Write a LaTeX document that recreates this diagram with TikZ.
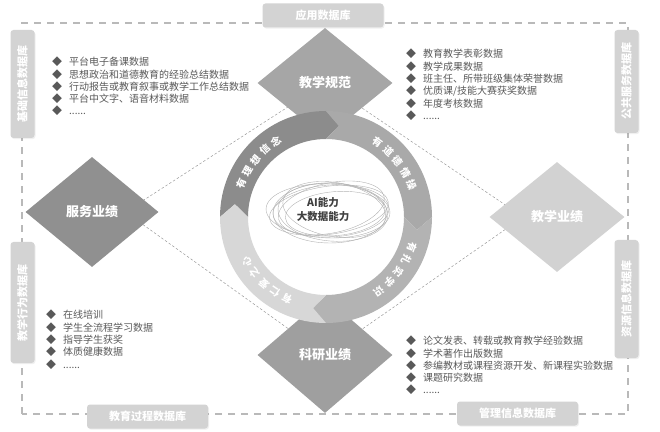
\documentclass[tikz,border=0pt]{standalone}
\usepackage{fontspec}
\setmainfont{Noto Sans CJK SC}
\usetikzlibrary{shapes.geometric,backgrounds,calc,shadows}
\definecolor{dbgray}{HTML}{D3D3D3}
\definecolor{txtgray}{HTML}{595959}
\definecolor{ringA}{HTML}{8C8C8C}
\definecolor{ringB}{HTML}{A9A9A9}
\definecolor{ringC}{HTML}{B3B3B3}
\definecolor{ringD}{HTML}{D7D7D7}
\newcommand{\etcdots}{......}

\begin{document}
\begin{tikzpicture}[x=1pt,y=1pt,
dbbox/.style={rounded corners=3pt,fill=dbgray,text=white,inner sep=0pt,
  font=\fontsize{11}{11}\selectfont\bfseries,
  drop shadow={opacity=0.12,shadow xshift=1pt,shadow yshift=-1.2pt}},
hbox/.style={dbbox,minimum height=24,minimum width=121},
vbox/.style={dbbox,rotate=90,minimum height=24},
dia/.style={diamond,aspect=1.2,minimum width=135,minimum height=110,inner sep=0pt,
  text=white,font=\fontsize{13}{13}\selectfont\bfseries},
item/.style={anchor=west,inner sep=0pt,text=txtgray,font=\fontsize{10}{10}\selectfont},
rtxt/.style={inner sep=0pt,text=white,font=\fontsize{10}{10}\selectfont\bfseries},
frame/.style={draw=gray!55,line width=1.2pt,dash pattern=on 7pt off 6pt},
link/.style={draw=gray!80,line width=0.5pt,dash pattern=on 2.5pt off 2pt},
scrib/.style={draw=gray!60,line width=0.4pt}]
\useasboundingbox (0,0) rectangle (660,431);

\node[dia,fill=gray!70] (gf) at (325,348) {教学规范};
\node[dia,fill=gray!87,minimum width=133] (fw) at (92,219) {服务业绩};
\node[dia,fill=gray!35] (jx) at (557,214) {教学业绩};
\node[dia,fill=gray!75,minimum height=116] (ky) at (325,76) {科研业绩};

\node[hbox] (db-top) at (323,415.5) {应用数据库};
\node[hbox] (db-lb) at (147.5,14.5) {教育过程数据库};
\node[hbox] (db-rb) at (517.5,17.5) {管理信息数据库};
\node[vbox,minimum width=108] (db-lt) at (22.5,347) {基础信息数据库};
\node[vbox,minimum width=103] (db-rt) at (626.5,349.5) {公共服务数据库};
\node[vbox,minimum width=121] (db-lbv) at (22.5,128.5) {教学行为数据库};
\node[vbox,minimum width=118] (db-rbv) at (626.5,132) {资源信息数据库};

\begin{scope}[on background layer]
\draw[frame] (22,17) rectangle (628,408);
\draw[link] (gf.center) -- ($(jx.center)!.5!(jx.west)$) -- (ky.center)
  -- ($(fw.center)!.5!(fw.east)$) -- cycle;
\end{scope}

\coordinate (rc) at (326,214);
\begin{scope}[shift={(rc)}]
\foreach \a/\c in {180/ringA,90/ringB,0/ringC,-90/ringD}
  \fill[\c] (\a:106) arc[start angle=\a,end angle=\a-90,radius=106]
    -- ({\a-98}:92) -- ({\a-90}:78) arc[start angle=\a-90,end angle=\a,radius=78]
    -- ({\a-8}:92) -- cycle;
\foreach \ch [count=\k] in {有,理,想,信,念}
  \node[rtxt,rotate={141+(3-\k)*8.8-90}] (ra-\k) at ({141+(3-\k)*8.8}:91) {\ch};
\foreach \ch [count=\k] in {有,道,德,情,操}
  \node[rtxt,rotate={38+(3-\k)*8.8-90}] (rb-\k) at ({38+(3-\k)*8.8}:91) {\ch};
\foreach \ch [count=\k] in {有,扎,实,学,识}
  \node[rtxt,rotate={-37+(3-\k)*8.8-90}] (rc-\k) at ({-37+(3-\k)*8.8}:91) {\ch};
\foreach \ch [count=\k] in {有,仁,爱,之,心}
  \node[rtxt,rotate={-133+(3-\k)*8.8-90}] (rd-\k) at ({-133+(3-\k)*8.8}:91) {\ch};
\end{scope}

\begin{scope}[shift={(331,220)}]
\foreach \rx/\ry/\r/\dx/\dy in {58/26/3/0/0,55/29/-4/2/-1,60/24/8/-2/1,52/27/-10/3/2,
  57/30/0/-1/-2,50/22/5/4/-3,62/27/-2/-3/0,54/25/12/1/3}
  \draw[scrib,rotate=\r] (\dx,\dy) ellipse[x radius=\rx,y radius=\ry];
\end{scope}
\node[align=center,text=black!75,font=\fontsize{10.5}{14}\selectfont\bfseries] (ai) at (323,221) {AI能力\\大数据能力};

\foreach \t [count=\i] in {平台电子备课数据,思想政治和道德教育的经验总结数据,
  行动报告或教育叙事或教学工作总结数据,平台中文字、语音材料数据,\etcdots}
  \node[item] (la-\i) at (52,381.3-12.3*\i) {◆\hspace{7pt}\t};
\foreach \t [count=\i] in {教育教学表彰数据,教学成果数据,班主任、所带班级集体荣誉数据,
  {优质课/技能大赛获奖数据},年度考核数据,\etcdots}
  \node[item] (lb-\i) at (406,389.4-12.4*\i) {◆\hspace{7pt}\t};
\foreach \t [count=\i] in {在线培训,学生全流程学习数据,指导学生获奖,体质健康数据,\etcdots}
  \node[item] (lc-\i) at (46,128.3-12.3*\i) {◆\hspace{7pt}\t};
\foreach \t [count=\i] in {论文发表、转载或教育教学经验数据,学术著作出版数据,
  参编教材或课程资源开发、新课程实验数据,课题研究数据,\etcdots}
  \node[item] (ld-\i) at (406,102.2-12.2*\i) {◆\hspace{7pt}\t};
\end{tikzpicture}
\end{document}
